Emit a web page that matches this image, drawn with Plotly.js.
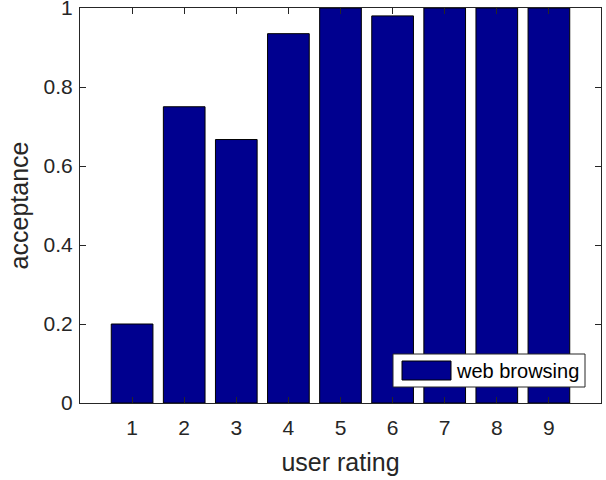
<!DOCTYPE html>
<html>
<head>
<meta charset="utf-8">
<script src="https://cdn.plot.ly/plotly-3.0.1.min.js"></script>
<style>html,body{margin:0;padding:0;background:#fff;}#chart{width:606px;height:480px;}</style>
</head>
<body>
<div id="chart"></div>
<script>
const ratings = [1, 2, 3, 4, 5, 6, 7, 8, 9];
const acceptance = [0.2, 0.75, 0.667, 0.935, 1.0, 0.98, 1.0, 1.0, 1.0];
const seriesName = 'web browsing';
const yTicks = [0, 0.2, 0.4, 0.6, 0.8, 1];
const yTickText = ['0', '0.2', '0.4', '0.6', '0.8', '1'];
const xLabel = 'user rating';
const yLabel = 'acceptance';

const barColor = 'rgb(0,0,143)';
const axisColor = 'rgb(38,38,38)';
const fontFamily = '"Liberation Sans", Arial, Helvetica, sans-serif';

const trace = {
  type: 'bar',
  x: ratings,
  y: acceptance,
  name: seriesName,
  width: 0.8,
  marker: {color: barColor, line: {color: 'black', width: 1}},
  showlegend: false,
  hoverinfo: 'x+y'
};

const layout = {
  width: 606, height: 480,
  margin: {l: 80, r: 5, t: 8, b: 77},
  paper_bgcolor: 'white', plot_bgcolor: 'white',
  font: {family: fontFamily, color: axisColor, size: 21},
  xaxis: {
    range: [0, 10], tickvals: ratings, ticktext: ratings.map(String),
    ticks: 'inside', ticklen: 6, tickcolor: axisColor,
    showline: true, linecolor: axisColor, linewidth: 1, mirror: 'ticks',
    showgrid: false, zeroline: false,
    tickfont: {size: 21, color: axisColor},
    ticklabelstandoff: 6,
    title: {text: xLabel, font: {size: 25, color: axisColor}, standoff: 15}
  },
  yaxis: {
    range: [0, 1], tickvals: yTicks, ticktext: yTickText,
    ticks: 'inside', ticklen: 6, tickcolor: axisColor,
    showline: true, linecolor: axisColor, linewidth: 1, mirror: 'ticks',
    showgrid: false, zeroline: false,
    tickfont: {size: 21, color: axisColor},
    ticklabelstandoff: 2,
    ticklabeloverflow: 'allow',
    title: {text: yLabel, font: {size: 25, color: axisColor}, standoff: 7}
  },
  shapes: [
    {type: 'rect', xref: 'paper', yref: 'paper',
     x0: (393 - 80) / 521, x1: (585 - 80) / 521,
     y0: (403 - 387) / 395, y1: (403 - 354) / 395,
     fillcolor: 'white', line: {color: axisColor, width: 1}, layer: 'above'},
    {type: 'rect', xref: 'paper', yref: 'paper',
     x0: (402 - 80) / 521, x1: (451 - 80) / 521,
     y0: (403 - 380) / 395, y1: (403 - 361) / 395,
     fillcolor: barColor, line: {color: 'black', width: 1}, layer: 'above'}
  ],
  annotations: [
    {xref: 'paper', yref: 'paper', x: (454 - 80) / 521, y: (403 - 370.5) / 395,
     xanchor: 'left', yanchor: 'middle', text: seriesName, showarrow: false,
     font: {size: 20, color: 'black'}}
  ]
};

Plotly.newPlot('chart', [trace], layout, {displayModeBar: false, staticPlot: true});
</script>
</body>
</html>
